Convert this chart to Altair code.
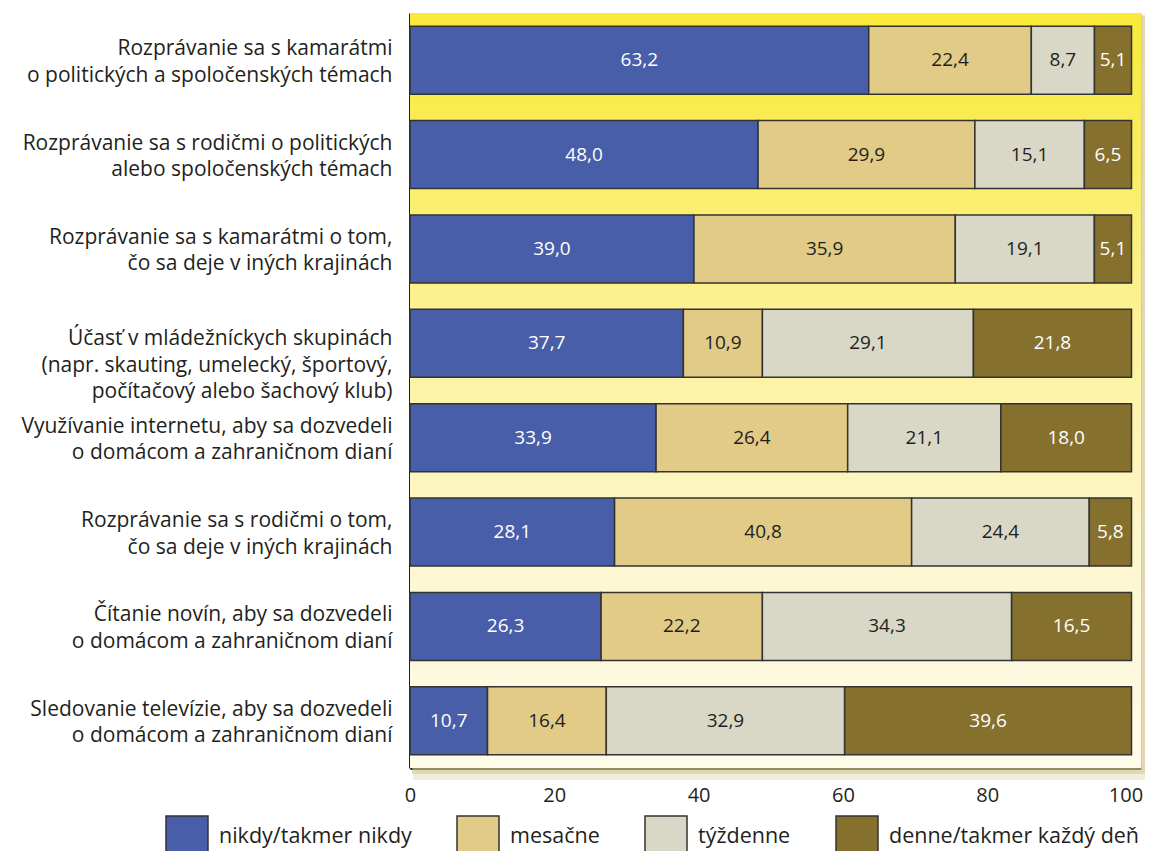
import altair as alt
import pandas as pd

categories = [
    "Rozprávanie sa s kamarátmi\no politických a spoločenských témach",
    "Rozprávanie sa s rodičmi o politických\nalebo spoločenských témach",
    "Rozprávanie sa s kamarátmi o tom,\nčo sa deje v iných krajinách",
    "Účasť v mládežníckych skupinách\n(napr. skauting, umelecký, športový,\npočítačový alebo šachový klub)",
    "Využívanie internetu, aby sa dozvedeli\no domácom a  zahraničnom dianí",
    "Rozprávanie sa s rodičmi o tom,\nčo sa deje v iných krajinách",
    "Čítanie novín, aby sa dozvedeli\no domácom a  zahraničnom dianí",
    "Sledovanie televízie, aby sa dozvedeli\no domácom a zahraničnom dianí",
]
series_names = ["nikdy/takmer nikdy", "mesačne", "týždenne", "denne/takmer každý deň"]
nikdy = [63.2, 48.0, 39.0, 37.7, 33.9, 28.1, 26.3, 10.7]
mesacne = [22.4, 29.9, 35.9, 10.9, 26.4, 40.8, 22.2, 16.4]
tyzdenne = [8.7, 15.1, 19.1, 29.1, 21.1, 24.4, 34.3, 32.9]
denne = [5.1, 6.5, 5.1, 21.8, 18.0, 5.8, 16.5, 39.6]
colors = ["#485ea8", "#e2ca87", "#d9d8c6", "#85702e"]
text_colors = ["#ffffff", "#231f20", "#231f20", "#ffffff"]

rows = []
for s_idx, vals in enumerate([nikdy, mesacne, tyzdenne, denne]):
    for c, v in zip(categories, vals):
        rows.append({"cat": c, "series": series_names[s_idx], "order": s_idx,
                     "value": v, "tcolor": text_colors[s_idx]})
df = pd.DataFrame(rows)

W, H = 731, 755
XMAX = 731 / 721.5
FONT = "Open Sans"

shadow1 = alt.Chart(alt.Data(values=[{}])).mark_rect(color="#cfc48c", opacity=0.3).encode(
    x=alt.value(3), x2=alt.value(W + 12), y=alt.value(3), y2=alt.value(H + 12))
shadow2 = alt.Chart(alt.Data(values=[{}])).mark_rect(color="#cfc48c", opacity=0.5).encode(
    x=alt.value(2), x2=alt.value(W + 6), y=alt.value(2), y2=alt.value(H + 6))

grad = alt.LinearGradient(
    gradient="linear",
    stops=[
        alt.GradientStop(color="#f8e93a", offset=0),
        alt.GradientStop(color="#f9ec55", offset=0.15),
        alt.GradientStop(color="#fcf189", offset=0.35),
        alt.GradientStop(color="#fdf4b4", offset=0.55),
        alt.GradientStop(color="#fdf7d3", offset=0.75),
        alt.GradientStop(color="#fefbea", offset=1),
    ],
    x1=0, x2=0, y1=0, y2=1,
)
bg = alt.Chart(alt.Data(values=[{}])).mark_rect(color=grad).encode(
    x=alt.value(0), x2=alt.value(W), y=alt.value(0), y2=alt.value(H))

base = alt.Chart(df).transform_stack(
    stack="value", as_=["x0", "x1"], groupby=["cat"], offset="normalize",
    sort=[alt.SortField("order", order="ascending")],
).transform_calculate(
    mid="(datum.x0 + datum.x1) / 2",
    lbl="replace(format(datum.value, '.1f'), '.', ',')",
)

yenc = alt.Y(
    "cat:N", sort=categories, title=None,
    scale=alt.Scale(paddingInner=0.28, paddingOuter=0.14),
    axis=alt.Axis(
        labelExpr="split(datum.label, '\\n')",
        labelFont=FONT, labelFontSize=21, labelColor="#231f20",
        labelLineHeight=26.5, labelPadding=18, labelLimit=500,
        ticks=False, domainColor="#231f20", domainWidth=3,
        labelOffset=alt.ConditionalAxisNumber(
            condition={"test": "indexof(datum.value, 'Účasť') == 0", "value": -4}, value=-11),
    ),
)

bars = base.mark_bar(stroke="#333333", strokeWidth=1.5).encode(
    x=alt.X("x0:Q", title=None,
            scale=alt.Scale(domain=[0, XMAX], nice=False, zero=True),
            axis=alt.Axis(values=[0, 0.2, 0.4, 0.6, 0.8, 1.0],
                          labelExpr="round(datum.value * 100)",
                          labelFont=FONT, labelFontSize=20, labelColor="#231f20",
                          labelPadding=17, labelFlush=False, ticks=False, grid=False,
                          labelOffset=alt.ConditionalAxisNumber(
                              condition={"test": "datum.value >= 1", "value": -6}, value=0),
                          domainColor="#231f20", domainWidth=3)),
    x2="x1:Q",
    y=yenc,
    color=alt.Color(
        "series:N", sort=series_names,
        scale=alt.Scale(domain=series_names, range=colors),
        legend=alt.Legend(
            title=None, orient="none", legendX=-245, legendY=802,
            direction="horizontal", columns=4, symbolType="square",
            symbolSize=1764, symbolStrokeColor="#333333", symbolStrokeWidth=1.5,
            symbolOpacity=1, labelFont=FONT, labelFontSize=21.5, labelColor="#231f20",
            labelOffset=10, columnPadding=42, labelLimit=400, padding=0,
        ),
    ),
)

texts = base.mark_text(font=FONT, fontSize=19).encode(
    x=alt.X("mid:Q"),
    y=alt.Y("cat:N", sort=categories),
    text="lbl:N",
    color=alt.Color("tcolor:N", scale=None),
)

chart = alt.layer(shadow1, shadow2, bg, bars, texts).properties(
    width=W, height=H,
    autosize=alt.AutoSizeParams(type="none"),
    padding={"left": 402, "top": 5, "right": 4, "bottom": 83},
).configure_view(stroke=None).configure(background="#ffffff")

chart.save("out.html", embed_options={"renderer": "svg", "actions": False})
